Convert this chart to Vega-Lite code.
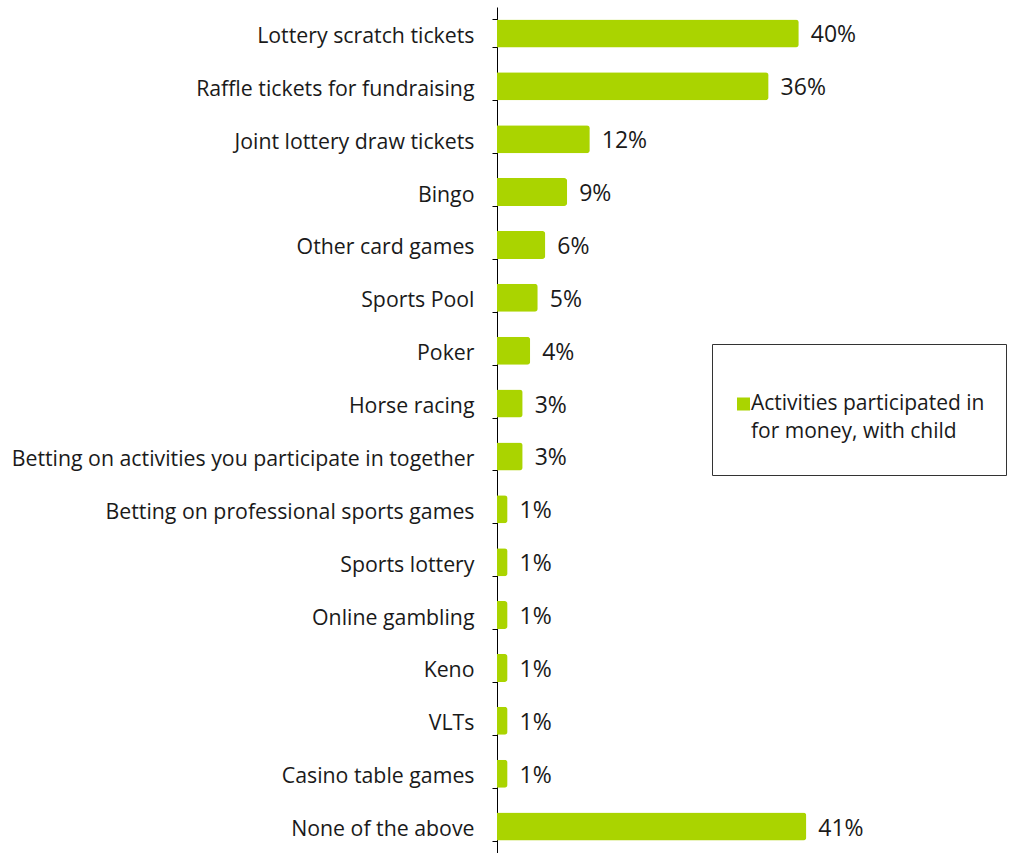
{
  "$schema": "https://vega.github.io/schema/vega-lite/v6.json",
  "width": 513,
  "height": 846,
  "autosize": {"type": "none"},
  "padding": {"left": 497, "top": 7, "right": 1, "bottom": 0},
  "background": "white",
  "config": {
    "view": {"stroke": null},
    "font": "Open Sans",
    "style": {"guide-label": {"lineHeight": 28}}
  },
  "data": {
    "values": [
      {"activity": "Lottery scratch tickets", "value": 40, "label": "40%", "series": "Activities participated in for money, with child"},
      {"activity": "Raffle tickets for fundraising", "value": 36, "label": "36%", "series": "Activities participated in for money, with child"},
      {"activity": "Joint lottery draw tickets", "value": 12.3, "label": "12%", "series": "Activities participated in for money, with child"},
      {"activity": "Bingo", "value": 9.3, "label": "9%", "series": "Activities participated in for money, with child"},
      {"activity": "Other card games", "value": 6.4, "label": "6%", "series": "Activities participated in for money, with child"},
      {"activity": "Sports Pool", "value": 5.4, "label": "5%", "series": "Activities participated in for money, with child"},
      {"activity": "Poker", "value": 4.4, "label": "4%", "series": "Activities participated in for money, with child"},
      {"activity": "Horse racing", "value": 3.4, "label": "3%", "series": "Activities participated in for money, with child"},
      {"activity": "Betting on activities you participate in together", "value": 3.4, "label": "3%", "series": "Activities participated in for money, with child"},
      {"activity": "Betting on professional sports games", "value": 1.4, "label": "1%", "series": "Activities participated in for money, with child"},
      {"activity": "Sports lottery", "value": 1.4, "label": "1%", "series": "Activities participated in for money, with child"},
      {"activity": "Online gambling", "value": 1.4, "label": "1%", "series": "Activities participated in for money, with child"},
      {"activity": "Keno", "value": 1.4, "label": "1%", "series": "Activities participated in for money, with child"},
      {"activity": "VLTs", "value": 1.4, "label": "1%", "series": "Activities participated in for money, with child"},
      {"activity": "Casino table games", "value": 1.4, "label": "1%", "series": "Activities participated in for money, with child"},
      {"activity": "None of the above", "value": 41, "label": "41%", "series": "Activities participated in for money, with child"}
    ]
  },
  "encoding": {
    "y": {
      "field": "activity",
      "type": "nominal",
      "sort": null,
      "scale": {"paddingInner": 0.47, "paddingOuter": 0.235},
      "axis": {
        "title": null,
        "domainColor": "#000000",
        "domainWidth": 1,
        "tickColor": "#000000",
        "tickSize": 5,
        "tickBand": "extent",
        "labelFontSize": 21.3,
        "labelColor": "#1a1a1a",
        "labelPadding": 18,
        "labelOffset": 3,
        "labelLimit": 500
      }
    },
    "x": {
      "field": "value",
      "type": "quantitative",
      "scale": {"domain": [0, 68], "nice": false},
      "axis": null
    }
  },
  "layer": [
    {
      "mark": {"type": "bar", "cornerRadiusEnd": 3},
      "encoding": {
        "color": {
          "field": "series",
          "type": "nominal",
          "scale": {"range": ["#aad400"]},
          "legend": {
            "title": " ",
            "titleOrient": "bottom",
            "titleFontSize": 1,
            "titlePadding": 10,
            "orient": "none",
            "legendX": 215,
            "legendY": 337,
            "direction": "vertical",
            "strokeColor": "#333333",
            "fillColor": "white",
            "padding": 21,
            "clipHeight": 78,
            "symbolType": "square",
            "symbolSize": 169,
            "symbolStrokeWidth": 0,
            "labelFontSize": 21,
            "labelColor": "#1a1a1a",
            "labelLimit": 400,
            "labelOffset": -3,
            "labelExpr": "['Activities participated in', 'for money, with child']"
          }
        }
      }
    },
    {
      "mark": {"type": "text", "align": "left", "dx": 12, "dy": 2, "fontSize": 23, "color": "#1a1a1a"},
      "encoding": {
        "text": {"field": "label", "type": "nominal"}
      }
    }
  ]
}
